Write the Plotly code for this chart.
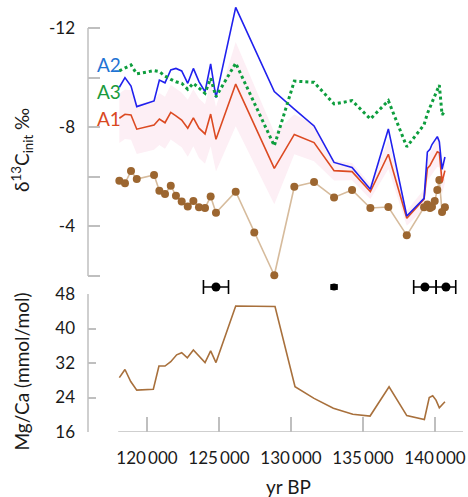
import plotly.graph_objects as go

# ---------------- data ----------------
x_pts = [118080, 118470, 118890, 119290, 120490, 120860, 121250, 121650, 122010, 122410,
         122830, 123220, 123610, 124030, 124420, 124790, 126160, 127450, 128840, 130230,
         131600, 132990, 134240, 135510, 136760, 138040, 139240, 139470, 139650, 139790,
         139980, 140160, 140300, 140490, 140690]

d13c_meas = [-5.84, -5.74, -6.23, -5.91, -6.07, -5.44, -5.31, -5.64, -5.24, -5.00,
             -4.80, -5.02, -4.77, -4.74, -5.21, -4.55, -5.40, -3.75, -2.03, -5.60,
             -5.79, -5.17, -5.47, -4.74, -4.78, -3.64, -4.77, -4.88, -4.74, -4.79,
             -5.02, -5.47, -5.87, -4.58, -4.77]

a2 = [-9.61, -10.00, -9.66, -8.83, -9.06, -9.90, -9.79, -10.31, -10.37, -10.27,
      -9.77, -10.37, -9.84, -9.43, -10.55, -9.19, -12.83, -11.23, -9.44, -8.73,
      -8.05, -6.58, -6.38, -5.50, -7.93, -4.42, -5.13, -7.00, -7.11, -7.30,
      -7.45, -7.62, -7.42, -6.30, -6.80]

a1 = [-8.36, -8.52, -8.49, -7.92, -8.09, -8.33, -8.18, -8.60, -8.46, -8.29,
      -7.96, -8.38, -7.96, -7.73, -8.53, -7.51, -9.74, -8.10, -6.34, -7.71,
      -7.38, -6.25, -6.21, -5.40, -6.91, -4.33, -5.10, -6.34, -6.45, -6.61,
      -6.81, -7.01, -6.97, -5.80, -6.25]

a1_err = [1.0, 1.0, 1.0, 1.0, 1.0, 1.05, 1.05, 1.1, 1.1, 1.1,
          1.15, 1.15, 1.2, 1.2, 1.3, 1.3, 1.7, 1.6, 1.45, 0.8,
          0.75, 0.4, 0.35, 0.3, 0.6, 0.3, 0.4, 0.5, 0.5, 0.5,
          0.55, 0.6, 0.6, 0.5, 0.5]

a3 = [-10.27, -10.37, -10.51, -10.15, -10.28, -10.24, -10.06, -9.93, -9.83, -9.77,
      -9.53, -9.77, -9.57, -9.37, -9.97, -9.23, -10.58, -8.98, -7.25, -9.86,
      -9.81, -8.94, -9.07, -8.33, -9.07, -7.21, -8.10, -8.55, -8.80, -9.00,
      -9.20, -9.45, -9.70, -8.50, -8.65]

mg_x = [118080, 118470, 118870, 119290, 120440, 120830, 121250, 121650, 122060, 122410,
        122800, 123220, 124030, 124420, 124790, 126160, 128890, 130280, 131600, 132940,
        134290, 135490, 136810, 138040, 139260, 139600, 139840, 140070, 140300, 140690]
mg_ca = [28.6, 30.5, 27.7, 25.7, 25.9, 31.3, 31.3, 32.3, 33.9, 34.4,
         33.2, 35.0, 32.1, 34.8, 32.1, 45.2, 45.1, 26.5, 23.8, 21.5,
         20.1, 19.7, 26.5, 19.8, 18.9, 24.0, 24.4, 23.4, 21.6, 23.0]

date_x = [124790, 139300, 140760]
date_err = [870, 780, 680]
date2_x = [132990]
date2_err = [200]

x_ticks = [120000, 125000, 130000, 135000, 140000]
x_ticktext = ["120\u2009000", "125\u2009000", "130\u2009000", "135\u2009000", "140\u2009000"]
y1_ticks = [-12, -10, -8, -6, -4, -2]
y1_ticktext = ["-12", "", "-8", "", "-4", ""]
y2_ticks = [16, 24, 32, 40, 48]

# ---------------- style ----------------
FONT = "Lato"
GRAY = "#bfbfbf"
TXT = "#1a1a1a"
XMIN, XMAX = 115903, 141944
DATE_ROW = -1.556

fig = go.Figure()

upper = [v - e for v, e in zip(a1, a1_err)]
lower = [v + e for v, e in zip(a1, a1_err)]
fig.add_trace(go.Scatter(x=x_pts + x_pts[::-1], y=upper + lower[::-1], fill="toself",
                         fillcolor="#fdeff5", line=dict(width=0), mode="lines",
                         hoverinfo="skip", showlegend=False, yaxis="y"))
fig.add_trace(go.Scatter(x=x_pts, y=d13c_meas, mode="lines+markers",
                         line=dict(color="#d6bb9c", width=1.6),
                         marker=dict(color="#9c6630", size=8), showlegend=False, yaxis="y"))
fig.add_trace(go.Scatter(x=x_pts, y=a1, mode="lines", line=dict(color="#dc4a22", width=1.6),
                         showlegend=False, yaxis="y"))
fig.add_trace(go.Scatter(x=x_pts, y=a2, mode="lines", line=dict(color="#2020ee", width=1.6),
                         showlegend=False, yaxis="y"))
fig.add_trace(go.Scatter(x=x_pts, y=a3, mode="lines", line=dict(color="#0e9e3e", width=3, dash="dot"),
                         showlegend=False, yaxis="y"))

fig.add_trace(go.Scatter(x=date_x, y=[DATE_ROW] * len(date_x), mode="markers",
                         marker=dict(color="black", size=9), cliponaxis=False,
                         error_x=dict(type="data", array=date_err, color="black", thickness=1.6, width=7),
                         showlegend=False, yaxis="y"))
fig.add_trace(go.Scatter(x=date2_x, y=[DATE_ROW] * len(date2_x), mode="markers",
                         marker=dict(color="black", size=7), cliponaxis=False,
                         error_x=dict(type="data", array=date2_err, color="black", thickness=1.6, width=3),
                         showlegend=False, yaxis="y"))

fig.add_trace(go.Scatter(x=mg_x, y=mg_ca, mode="lines", line=dict(color="#a8703c", width=1.6),
                         showlegend=False, yaxis="y2"))

fig.update_layout(
    width=468, height=497,
    margin=dict(l=88, r=5, t=0, b=65, autoexpand=False),
    paper_bgcolor="white", plot_bgcolor="white",
    font=dict(family=FONT, size=17, color=TXT),
    xaxis=dict(domain=[0, 1], range=[XMIN, XMAX], anchor="y2", automargin=False,
               tickvals=x_ticks, ticktext=x_ticktext, ticks="inside", ticklen=15,
               tickcolor=GRAY, tickwidth=1.5, showline=False, showgrid=False, zeroline=False,
               ticklabelstandoff=14, tickfont=dict(size=17)),
    yaxis=dict(domain=[0.31944, 1], range=[-1.274, -13.129], anchor="x", automargin=False,
               tickvals=y1_ticks, ticktext=y1_ticktext, ticks="inside", ticklen=12,
               tickcolor=GRAY, tickwidth=1.5, showline=False, showgrid=False, zeroline=False,
               ticklabelstandoff=12, tickfont=dict(size=17)),
    yaxis2=dict(domain=[0, 0.31944], range=[16, 48], anchor="x", automargin=False,
                tickvals=y2_ticks, ticks="inside", ticklen=8,
                tickcolor=GRAY, tickwidth=1.5, showline=False, showgrid=False, zeroline=False,
                ticklabelstandoff=12, tickfont=dict(size=17)),
    shapes=[
        dict(type="line", xref="paper", yref="y", x0=0, x1=0, y0=-12, y1=-2,
             line=dict(color=GRAY, width=1.5)),
        dict(type="line", xref="paper", yref="y2", x0=0, x1=0, y0=16, y1=48,
             line=dict(color=GRAY, width=1.5)),
        dict(type="line", xref="x", yref="y2", x0=118000, x1=XMAX, y0=16, y1=16,
             line=dict(color=GRAY, width=1.5)),
    ],
    annotations=[
        dict(text="A2", x=116389, y=-10.51, xref="x", yref="y", xanchor="left", yanchor="middle",
             showarrow=False, font=dict(size=19, color="#1f74d4")),
        dict(text="A3", x=116389, y=-9.42, xref="x", yref="y", xanchor="left", yanchor="middle",
             showarrow=False, font=dict(size=19, color="#1a9a3c")),
        dict(text="A1", x=116389, y=-8.37, xref="x", yref="y", xanchor="left", yanchor="middle",
             showarrow=False, font=dict(size=19, color="#d9491f")),
        dict(text="yr BP", x=129792, y=-0.1273, xref="x", yref="paper", xanchor="center",
             yanchor="middle", showarrow=False, font=dict(size=19)),
        dict(text="δ<sup>13</sup>C<sub>init</sub> ‰", x=-0.176, y=0.6528, xref="paper", yref="paper",
             xanchor="center", yanchor="middle", textangle=-90, showarrow=False, font=dict(size=19)),
        dict(text="Mg/Ca (mmol/mol)", x=-0.176, y=0.14, xref="paper", yref="paper",
             xanchor="center", yanchor="middle", textangle=-90, showarrow=False, font=dict(size=19)),
    ],
)

fig.write_html("out.html", config={"displayModeBar": False},
               post_script="document.body.style.margin='0';document.body.style.overflow='hidden';")
